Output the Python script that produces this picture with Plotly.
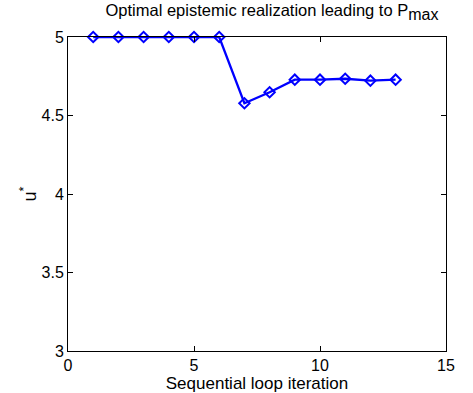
import plotly.graph_objects as go

iterations = [1, 2, 3, 4, 5, 6, 7, 8, 9, 10, 11, 12, 13]
u_star = [5.0, 5.0, 5.0, 5.0, 5.0, 5.0, 4.578, 4.648, 4.728, 4.728, 4.734, 4.722, 4.728]
x_ticks = [0, 5, 10, 15]
y_ticks = [3, 3.5, 4, 4.5, 5]

FONT = "Liberation Sans, Arial"

fig = go.Figure()
fig.add_trace(go.Scatter(
    x=iterations, y=u_star, mode="lines+markers",
    line=dict(color="#0000ff", width=2.3),
    marker=dict(symbol="diamond-open", size=8, color="#0000ff", line=dict(width=2, color="#0000ff")),
    cliponaxis=False, showlegend=False,
))

axis_common = dict(
    showgrid=False, zeroline=False, showline=True, linecolor="black", linewidth=1,
    mirror="ticks", ticks="inside", ticklen=5, tickcolor="black", automargin=False,
    tickfont=dict(family=FONT, size=16, color="black"),
)
fig.update_xaxes(range=[0, 15], tickvals=x_ticks, ticktext=[str(v) for v in x_ticks],
                 title=dict(text="Sequential loop iteration", standoff=0,
                            font=dict(family=FONT, size=17, color="black")),
                 **axis_common)
fig.update_yaxes(range=[3, 5], tickvals=y_ticks, ticktext=["3", "3.5", "4", "4.5", "5"],
                 title=dict(text="u<sup>*</sup>", standoff=0,
                            font=dict(family=FONT, size=18, color="black")),
                 **axis_common)
fig.update_layout(
    width=473, height=393,
    margin=dict(l=68, r=27, t=37, b=42),
    plot_bgcolor="white", paper_bgcolor="white",
    title=dict(text="Optimal epistemic realization leading to P<sub><span style='font-size:16px'>max</span></sub>",
               x=0.575, xanchor="center", y=0.988, yanchor="top",
               font=dict(family=FONT, size=16.5, color="black")),
)
fig.write_html("out.html", post_script="document.body.style.margin='0px';",
               config={"displayModeBar": False})
